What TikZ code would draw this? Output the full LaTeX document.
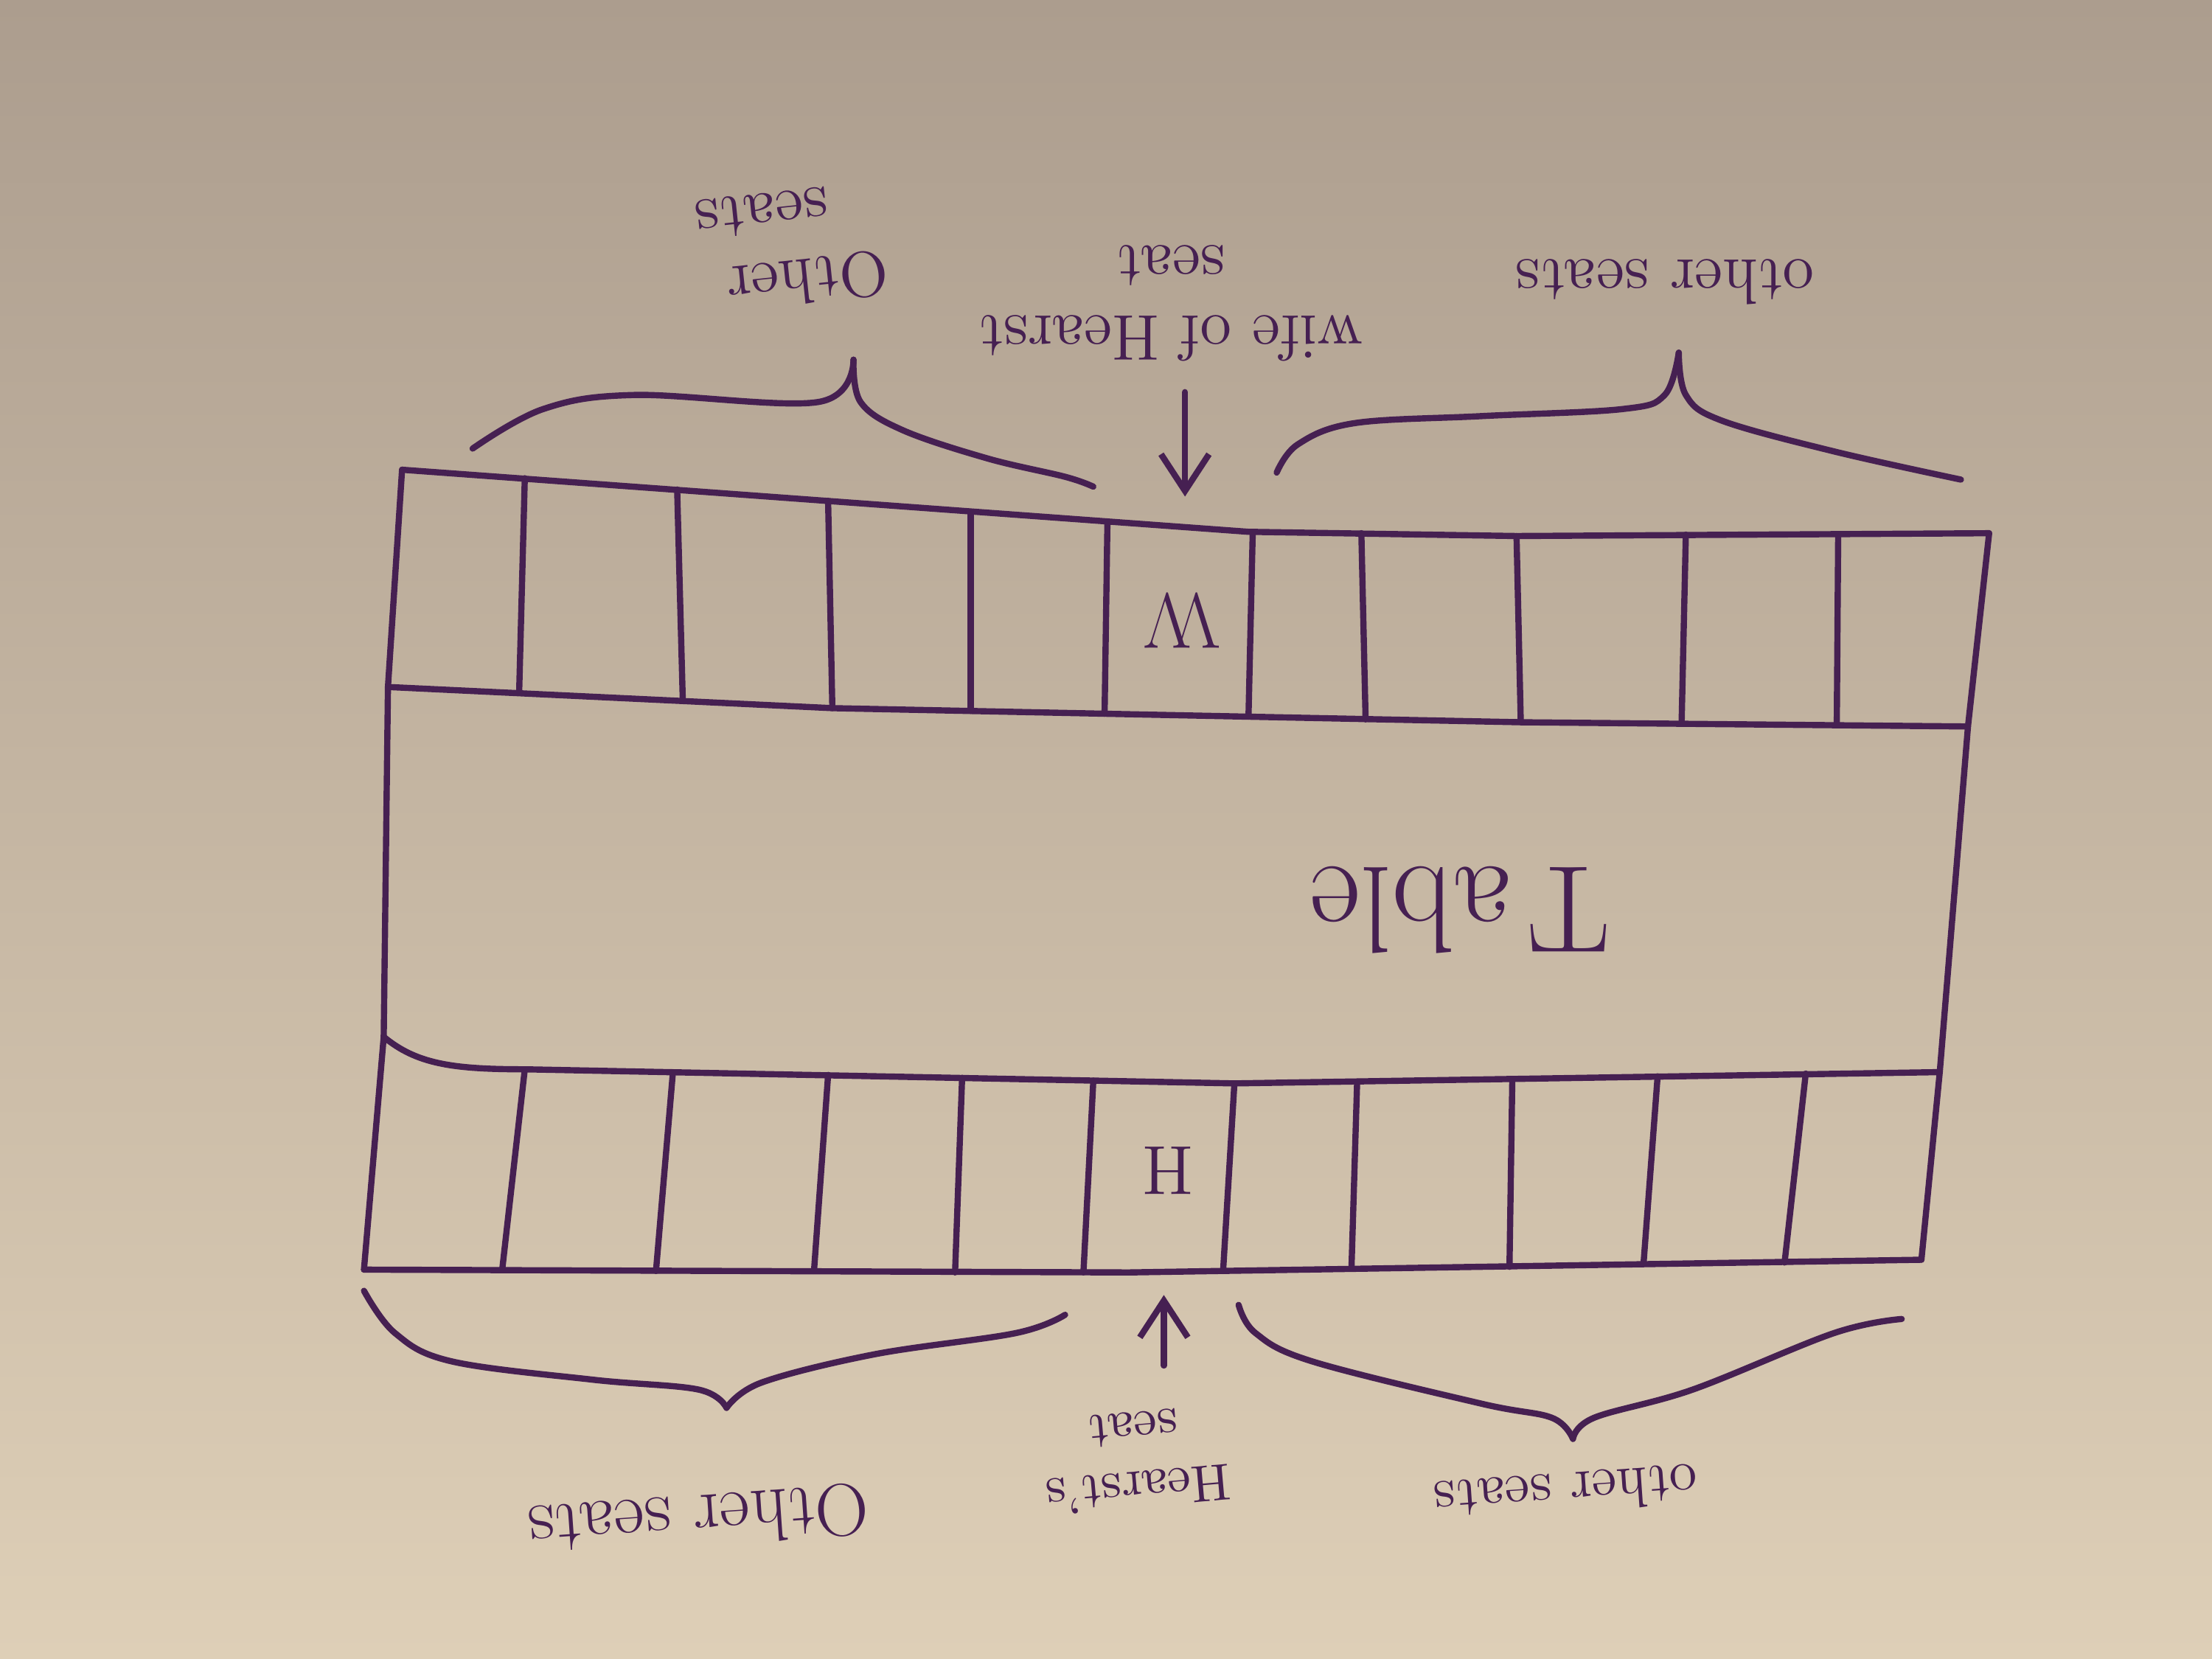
\documentclass[tikz,border=0pt]{standalone}
\usetikzlibrary{arrows.meta, calc}

\definecolor{ink}{RGB}{70,32,82}
\definecolor{paperT}{RGB}{172,157,142}
\definecolor{paperM}{RGB}{202,191,175}
\definecolor{paperB}{RGB}{222,207,183}

\begin{document}
\begin{tikzpicture}[
    line join=round, line cap=round,
    pen/.style={draw=ink, line width=1.25pt},
    curly/.style={pen, smooth, tension=0.6},
    pointer/.style={pen, -{Straight Barb[length=2.6mm, width=3.4mm]}},
    lbl/.style={text=ink, align=center, inner sep=1pt, font=\fontsize{13}{14}\selectfont},
    seatmark/.style={text=ink, inner sep=0pt}
]

    % paper
    \shade[top color=paperT, middle color=paperM, bottom color=paperB] (0,0) rectangle (15.68,11.76);
    \useasboundingbox (0,0) rectangle (15.68,11.76);

    % outline of both seat rows and the table
    \draw[pen] (2.85,8.43) -- (8.85,7.99) -- (10.75,7.96) -- (14.10,7.98);
    \draw[pen] (2.75,6.89) -- (5.90,6.74) -- (7.85,6.70) -- (10.78,6.64) -- (13.95,6.61);
    \draw[pen] (2.72,4.41) .. controls (2.95,4.22) and (3.20,4.18) .. (3.72,4.18)
        -- (8.75,4.08) -- (13.75,4.16);
    \draw[pen] (2.58,2.76) -- (8.00,2.74) -- (13.62,2.83);
    \draw[pen] (2.85,8.43) -- (2.75,6.89) -- (2.72,4.41) -- (2.58,2.76);
    \draw[pen] (14.10,7.98) -- (13.95,6.61) -- (13.75,4.16) -- (13.62,2.83);

    % seats along the top side
    \foreach \xt/\yt/\xb/\yb in {3.72/8.37/3.68/6.85, 4.80/8.29/4.84/6.79,
        5.87/8.21/5.90/6.74, 6.88/8.13/6.88/6.72, 7.85/8.06/7.83/6.70,
        8.88/7.99/8.85/6.68, 9.65/7.98/9.68/6.66, 10.75/7.96/10.78/6.64,
        11.95/7.97/11.92/6.63, 13.03/7.97/13.02/6.62}
        \draw[pen] (\xt,\yt) -- (\xb,\yb);

    % seats along the bottom side
    \foreach \xt/\yt/\xb/\yb in {3.72/4.18/3.56/2.76, 4.77/4.16/4.65/2.75,
        5.87/4.14/5.77/2.75, 6.82/4.12/6.77/2.74, 7.75/4.10/7.68/2.74,
        8.75/4.08/8.67/2.75, 9.62/4.09/9.58/2.77, 10.72/4.11/10.70/2.78,
        11.75/4.13/11.65/2.80, 12.80/4.15/12.65/2.81}
        \draw[pen] (\xt,\yt) -- (\xb,\yb);

    % texts inside
    \node[seatmark, rotate=180, font=\fontsize{16}{16}\selectfont] (wseat) at (8.38,7.36) {W};
    \node[seatmark, rotate=180, font=\fontsize{14}{14}\selectfont] (hseat) at (8.28,3.46) {H};
    \node[seatmark, rotate=180, font=\fontsize{25}{25}\selectfont] (table) at (10.35,5.31) {T\kern0.12em able};

    % braces, top
    \draw[curly] plot coordinates {(3.35,8.58) (3.85,8.86) (4.50,8.96) (5.80,8.91) (6.05,9.21)};
    \draw[curly] plot coordinates {(6.05,9.21) (6.10,8.91) (6.40,8.71) (7.00,8.51) (7.55,8.38) (7.75,8.31)};
    \draw[curly] plot coordinates {(9.05,8.41) (9.20,8.61) (9.60,8.76) (10.50,8.81) (11.50,8.86) (11.80,8.96) (11.90,9.26)};
    \draw[curly] plot coordinates {(11.90,9.26) (11.95,8.96) (12.20,8.78) (13.00,8.56) (13.90,8.36)};

    % braces, bottom
    \draw[curly] plot coordinates {(2.58,2.61) (2.80,2.31) (3.20,2.11) (4.20,1.98) (4.95,1.91) (5.15,1.78)};
    \draw[curly] plot coordinates {(5.15,1.78) (5.40,1.96) (6.20,2.16) (7.20,2.31) (7.55,2.44)};
    \draw[curly] plot coordinates {(8.78,2.51) (8.90,2.31) (9.30,2.11) (10.50,1.81) (11.00,1.71) (11.15,1.56)};
    \draw[curly] plot coordinates {(11.15,1.56) (11.30,1.71) (12.00,1.91) (13.00,2.31) (13.48,2.41)};

    % pointers to the two seats
    \coordinate (wtail) at (8.40,8.98);
    \coordinate (wtip) at (8.40,8.24);
    \coordinate (htail) at (8.25,2.08);
    \coordinate (htip) at (8.25,2.58);
    \draw[pointer] (wtail) -- (wtip);
    \draw[pointer] (htail) -- (htip);

    % labels, written upside down
    \node[lbl, rotate=186] (topleft) at (5.70,10.01) {Other\\\hspace*{1.2em}seats};
    \node[lbl, rotate=180] (wlabel) at (8.30,9.61) {wife of Hearst\\seat};
    \node[lbl, rotate=180] (topright) at (11.80,9.76) {other seats};
    \node[lbl, rotate=184, font=\fontsize{15}{16}\selectfont] (botleft) at (4.95,0.98) {Other seats};
    \node[lbl, rotate=185, font=\fontsize{10.5}{12}\selectfont] (hlabel) at (8.05,1.41) {Hearst's\\seat};
    \node[lbl, rotate=184, font=\fontsize{11.5}{12}\selectfont] (botright) at (11.10,1.18) {other seats};

\end{tikzpicture}
\end{document}
